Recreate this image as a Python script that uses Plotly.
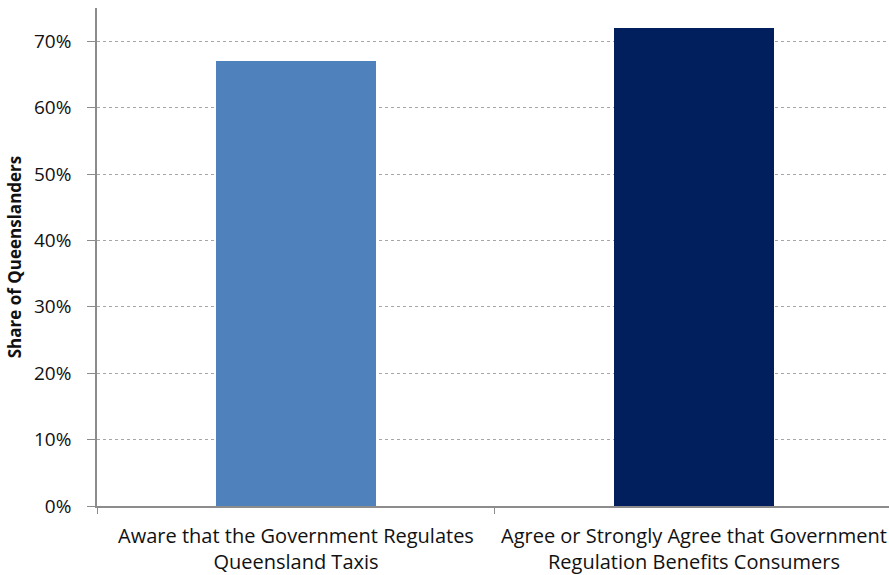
import plotly.graph_objects as go

# Survey results
categories = [
    "Aware that the Government Regulates<br>Queensland Taxis",
    "Agree or Strongly Agree that Government<br>Regulation Benefits Consumers",
]
shares = [0.67, 0.72]
bar_colors = ["#4F81BD", "#001F5C"]
y_tick_values = [0, 0.1, 0.2, 0.3, 0.4, 0.5, 0.6, 0.7]

FONT = "'Open Sans', Lato, sans-serif"

fig = go.Figure(
    go.Bar(
        x=categories,
        y=shares,
        width=0.4,
        marker=dict(color=bar_colors, line=dict(width=0)),
        hoverinfo="skip",
    )
)

fig.update_layout(
    width=889,
    height=575,
    margin=dict(l=97, r=0, t=8, b=69),
    plot_bgcolor="white",
    paper_bgcolor="white",
    font=dict(family=FONT, size=18, color="#111111"),
    showlegend=False,
    bargap=0,
)

fig.update_xaxes(
    type="category",
    range=[-0.5, 1.49],
    showline=True,
    linecolor="#8c8c8c",
    linewidth=1.5,
    ticks="outside",
    tickson="boundaries",
    ticklen=6,
    tickcolor="#8c8c8c",
    showgrid=False,
    ticklabelstandoff=11,
    tickfont=dict(family=FONT, size=20, color="#111111"),
)

fig.update_yaxes(
    range=[0, 0.75],
    tickvals=y_tick_values,
    tickformat=".0%",
    showline=True,
    linecolor="#8c8c8c",
    linewidth=1.5,
    ticks="outside",
    ticklen=8,
    tickcolor="#8c8c8c",
    showgrid=True,
    gridcolor="#a6a6a6",
    griddash="dot",
    gridwidth=1,
    zeroline=False,
    ticklabelstandoff=12,
    tickfont=dict(family=FONT, size=19, color="#111111"),
    title=dict(
        text="<b>Share of Queenslanders</b>",
        font=dict(family=FONT, size=17, color="#111111"),
        standoff=8,
    ),
)

fig.write_html("out.html")
